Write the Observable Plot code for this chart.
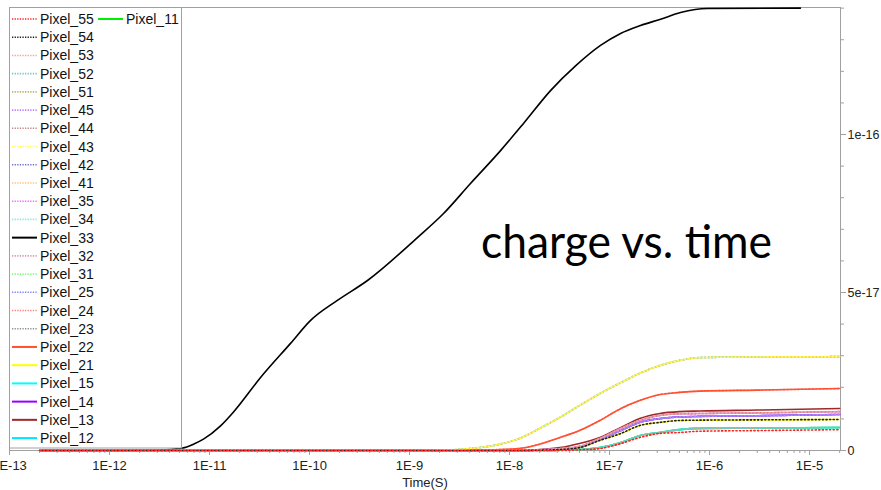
<!DOCTYPE html>
<html><head><meta charset="utf-8">
<script src="https://cdn.jsdelivr.net/npm/d3@7"></script>
<script src="https://cdn.jsdelivr.net/npm/@observablehq/plot@0.6"></script>
<style>
body{margin:0;background:#fff;}
#chart{position:relative;width:881px;height:490px;}
</style>
</head><body><div id="chart"></div>
<script>
// ---------- series (legend order) ----------
const seriesNames = ["Pixel_55","Pixel_54","Pixel_53","Pixel_52","Pixel_51","Pixel_45","Pixel_44","Pixel_43","Pixel_42","Pixel_41","Pixel_35","Pixel_34","Pixel_33","Pixel_32","Pixel_31","Pixel_25","Pixel_24","Pixel_23","Pixel_22","Pixel_21","Pixel_15","Pixel_14","Pixel_13","Pixel_12","Pixel_11"];
const seriesColors = ["#ff2020","#202020","#f0a0a0","#70c8c8","#b8b860","#c080ff","#c08888","#ffff40","#7070c8","#ffc070","#ff60ff","#88e8e8","#000000","#d898b8","#80ff80","#8080ff","#ff8080","#909090","#ff5030","#ffff00","#00ffff","#9900ff","#a02828","#00e8ff","#00ee00"];
const seriesDotted = [true,true,true,true,true,true,true,true,true,true,true,true,false,true,true,true,true,true,false,false,false,false,false,false,false];
// which read-off curve each pixel follows
const seriesCurve = ["low","mid","pink","base","base","purple","pink","side","purple","side","pink","side","center","pink","side","purple","diag","side","diag","mid","base","purple","far","base","base"];
// drawing order (last on top)
const drawOrder = ["Pixel_11","Pixel_12","Pixel_13","Pixel_14","Pixel_15","Pixel_21","Pixel_23","Pixel_24","Pixel_22","Pixel_25","Pixel_31","Pixel_32","Pixel_33","Pixel_34","Pixel_35","Pixel_41","Pixel_42","Pixel_43","Pixel_44","Pixel_45","Pixel_51","Pixel_52","Pixel_53","Pixel_54","Pixel_55"];

// ---------- center pixel (Pixel_33), charge in 1e-17 C ----------
const timesCenter  = [2e-13,1e-12,3e-12,5.4e-12,6.9e-12,8.7e-12,1.29e-11,1.74e-11,3.24e-11,6.46e-11,1.02e-10,1.9e-10,3.8e-10,1.2e-9,2.19e-9,4.07e-9,8.13e-9,1.38e-8,2.57e-8,4.6e-8,8.13e-8,1.29e-7,2.04e-7,3.24e-7,5.13e-7,9.5e-7,8.1e-6];
const valuesCenter = [0,0,0.01,0.08,0.20,0.36,0.78,1.22,2.31,3.39,4.11,4.75,5.38,6.74,7.50,8.45,9.49,10.35,11.39,12.18,12.82,13.20,13.45,13.65,13.86,13.99,14.00];

// ---------- neighbour pixels, charge in 1e-17 C ----------
const timesOuter   = [2e-13,1e-9,2e-9,4e-9,8e-9,1.3e-8,2e-8,3.2e-8,5e-8,8e-8,1.3e-7,2e-7,3.2e-7,5e-7,8e-7,3e-6,2e-5];
const valuesSide   = [0,0,0.01,0.06,0.20,0.40,0.70,1.05,1.42,1.80,2.15,2.44,2.69,2.85,2.94,2.96,2.97];
const valuesDiag   = [0,0,0,0.01,0.03,0.07,0.20,0.41,0.63,0.95,1.33,1.58,1.77,1.84,1.88,1.91,1.96];
const valuesFar    = [0,0,0,0,0,0.01,0.03,0.09,0.22,0.41,0.73,1.01,1.17,1.23,1.25,1.28,1.33];
const valuesPink   = [0,0,0,0,0,0,0.02,0.06,0.13,0.38,0.70,0.95,1.11,1.16,1.17,1.19,1.23];
const valuesPurple = [0,0,0,0,0,0,0.02,0.05,0.11,0.35,0.63,0.89,1.01,1.06,1.08,1.10,1.14];
const valuesMid    = [0,0,0,0,0,0,0.01,0.03,0.09,0.32,0.54,0.79,0.89,0.95,0.96,0.97,0.98];
const valuesBase   = [0,0,0,0,0,0,0,0.01,0.03,0.09,0.25,0.47,0.57,0.66,0.70,0.71,0.73];
const valuesLow    = [0,0,0,0,0,0,0,0,0.02,0.06,0.22,0.41,0.54,0.57,0.61,0.63,0.66];

// ---------- axes ----------
const xTickValues = [1e-13,1e-12,1e-11,1e-10,1e-9,1e-8,1e-7,1e-6,1e-5];
const xTickLabels = ["1E-13","1E-12","1E-11","1E-10","1E-9","1E-8","1E-7","1E-6","1E-5"];
const yTickValues = [0,5e-17,1e-16];
const yTickLabels = ["0","5e-17","1e-16"];
const xDomain = [1e-13, 2.04e-5];
const yDomain = [0, 1.402e-16];
const xLabel = "Time(S)";
const annotation = "charge vs. time";

// ---------- build marks ----------
const curves = {
  center:[timesCenter,valuesCenter], side:[timesOuter,valuesSide], diag:[timesOuter,valuesDiag],
  far:[timesOuter,valuesFar], pink:[timesOuter,valuesPink], purple:[timesOuter,valuesPurple],
  mid:[timesOuter,valuesMid], base:[timesOuter,valuesBase], low:[timesOuter,valuesLow]
};
const lineMarks = drawOrder.map(name => {
  const i = seriesNames.indexOf(name);
  const [ts,vs] = curves[seriesCurve[i]];
  const data = ts.map((t,j)=>({s: name, t, v: vs[j]*1e-17}));
  return Plot.line(data, {x: "t", y: "v", stroke: "s", strokeWidth: 1.6, curve: "monotone-x",
    strokeDasharray: seriesDotted[i] ? "1.2,2.4" : null,
    strokeDashoffset: seriesDotted[i] ? (i % 3) * 1.2 : null});
});

const minorX = [];
for (let k=-13;k<=-5;k++) for (let m=2;m<=9;m++){ const v=m*Math.pow(10,k); if(v<=xDomain[1]) minorX.push(v); }
const minorY = d3.range(0, 14.5, 1).map(d=>d*1e-17);

const grey = "#a0a0a0";
const plot = Plot.plot({
  width: 881, height: 490,
  marginLeft: 9, marginRight: 41, marginTop: 7, marginBottom: 40,
  style: {fontFamily: "'Liberation Sans', Arial, sans-serif", background: "#fff", overflow: "visible"},
  x: {type: "log", domain: xDomain},
  y: {domain: yDomain},
  color: {domain: seriesNames, range: seriesColors},
  marks: [
    Plot.frame({stroke: grey}),
    Plot.axisX(minorX, {tickSize: 3, stroke: grey, tickFormat: () => "", label: null}),
    Plot.axisX(xTickValues, {tickSize: 5, stroke: grey, fill: "#222", fontSize: 13, tickPadding: 5,
      tickFormat: (d) => xTickLabels[xTickValues.indexOf(d)],
      label: xLabel, labelAnchor: "center", labelArrow: "none", labelOffset: 36}),
    Plot.axisY(minorY, {anchor: "right", tickSize: 3, stroke: grey, tickFormat: () => "", label: null}),
    Plot.axisY(yTickValues, {anchor: "right", tickSize: 5, stroke: grey, fill: "#222", fontSize: 12.5, tickPadding: 2,
      tickFormat: d => yTickLabels[yTickValues.indexOf(d)], label: null}),
    ...lineMarks
  ]
});
document.getElementById("chart").appendChild(plot);

// ---------- legend box & annotation ----------
const svg = d3.select(plot);
const lg = svg.append("g").attr("text-anchor", "start");
lg.append("rect").attr("x", 9.5).attr("y", 7.5).attr("width", 172).attr("height", 440.5)
  .attr("fill", "#fff").attr("stroke", grey);
seriesNames.forEach((s,i)=>{
  const col = i < 24 ? 0 : 1;
  const row = i < 24 ? i : 0;
  const y = 19 + row*18.22;
  const x0 = col ? 98 : 12;
  lg.append("line").attr("x1", x0).attr("x2", x0+25).attr("y1", y).attr("y2", y)
    .attr("stroke", seriesColors[i]).attr("stroke-width", seriesDotted[i] ? 1.6 : 2)
    .attr("stroke-dasharray", seriesDotted[i] ? "1.3,1.3" : null);
  lg.append("text").attr("x", x0+28).attr("y", y).attr("dy", "0.36em").attr("text-anchor", "start")
    .attr("font-size", 14).attr("fill", "#111").text(s);
});
svg.append("text").attr("x", 481).attr("y", 258).attr("text-anchor", "start")
  .attr("font-family", "Lato, 'Open Sans', sans-serif")
  .attr("font-size", 46).attr("fill", "#000").attr("textLength", 291).attr("lengthAdjust", "spacingAndGlyphs")
  .text(annotation);
</script>
</body></html>
